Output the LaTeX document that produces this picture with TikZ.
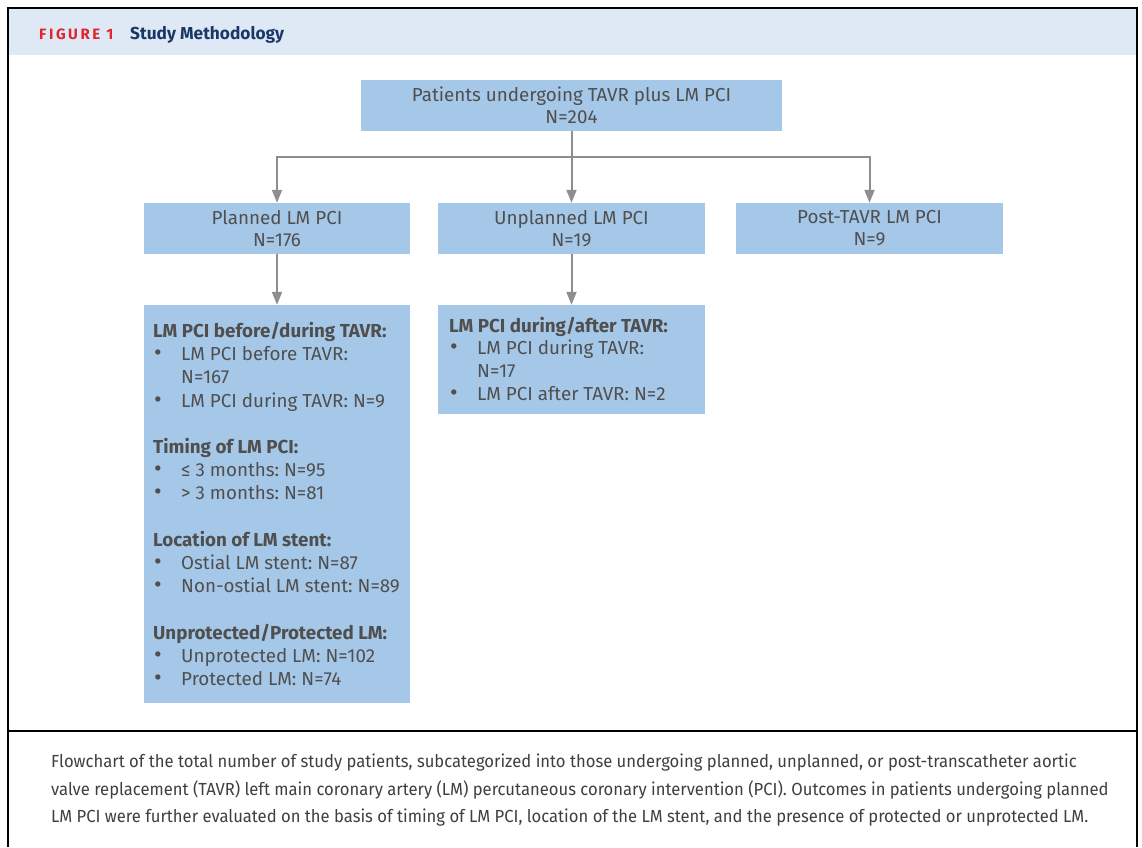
\documentclass[tikz,border=0pt]{standalone}
\usepackage{fontspec}
\setmainfont{Fira Sans}
\newfontfamily\capfont[FakeStretch=0.95]{Fira Sans}
\usetikzlibrary{arrows.meta}
\definecolor{boxblue}{HTML}{A6C8E8}
\definecolor{headband}{HTML}{DEE9F5}
\definecolor{linegray}{HTML}{8E8E8E}
\definecolor{txtgray}{HTML}{4F4F4F}
\definecolor{figred}{HTML}{E0252F}
\definecolor{navy}{HTML}{1B3766}
\tikzset{
  box/.style={fill=boxblue, draw=none, inner sep=0pt, text=txtgray, font=\fontsize{18.8}{22}\selectfont, align=center},
  listbox/.style={fill=boxblue, draw=none, inner sep=0pt},
  listtext/.style={anchor=base west, inner sep=0pt, text=txtgray, font=\frenchspacing\fontsize{18.8}{23.2}\selectfont, align=left},
  conn/.style={draw=linegray, line width=2pt},
  arr/.style={conn, -{Triangle[width=10pt,length=13pt]}},
  frame/.style={draw=black, line width=2pt},
}
\newcommand{\bitem}[1]{\makebox[28pt][l]{\hspace*{1pt}\scalebox{1.25}{\textbullet}}#1}
\newcommand{\bcont}[1]{\hspace*{28pt}#1}
\begin{document}
\begin{tikzpicture}[x=1pt,y=1pt]
\useasboundingbox (0,0) rectangle (1142,-847);
% header band
\fill[headband] (8,-9) rectangle (1137,-55);
\node[anchor=base west, inner sep=0pt, text=figred, font=\fontsize{15}{17}\selectfont\bfseries\addfontfeature{LetterSpace=17}] (figlabel) at (39,-39.5) {FIGURE 1};
\node[anchor=base west, inner sep=0pt, text=navy, font=\fontsize{17.3}{20}\selectfont\bfseries] (figtitle) at (130,-39.5) {Study Methodology};
% frame
\draw[frame] (8,-847) -- (8,-8) -- (1137,-8) -- (1137,-847);
\draw[frame] (8,-731) -- (1137,-731);
% boxes
\node[box, minimum width=421pt, minimum height=51pt] (top) at (571.5,-105.5) {Patients undergoing TAVR plus LM PCI\\N=204};
\node[box, minimum width=266pt, minimum height=51pt] (planned) at (277,-228.5) {Planned LM PCI\\N=176};
\node[box, minimum width=267pt, minimum height=51pt] (unplanned) at (571.5,-228.5) {Unplanned LM PCI\\N=19};
\node[box, minimum width=267pt, minimum height=51pt] (post) at (869.5,-228.5) {Post-TAVR LM PCI\\N=9};
\node[listbox, minimum width=266pt, minimum height=398pt] (plist) at (277,-504) {};
\node[listbox, minimum width=267pt, minimum height=109pt] (ulist) at (571.5,-359.5) {};
\node[listtext] (ptext) at (153,-685.5) {%
{\bfseries LM PCI before/during TAVR:}\\
\bitem{LM PCI before TAVR:}\\
\bcont{N=167}\\
\bitem{LM PCI during TAVR: N=9}\\[23.2pt]
{\bfseries Timing of LM PCI:}\\
\bitem{\symbol{"2264} 3 months: N=95}\\
\bitem{> 3 months: N=81}\\[23.2pt]
{\bfseries Location of LM stent:}\\
\bitem{Ostial LM stent: N=87}\\
\bitem{Non-ostial LM stent: N=89}\\[23.2pt]
{\bfseries Unprotected/Protected LM:}\\
\bitem{Unprotected LM: N=102}\\
\bitem{Protected LM: N=74}};
\node[listtext, font=\frenchspacing\fontsize{18.8}{22.8}\selectfont] (utext) at (449,-400.5) {%
{\bfseries LM PCI during/after TAVR:}\\
\bitem{LM PCI during TAVR:}\\
\bcont{N=17}\\
\bitem{LM PCI after TAVR: N=2}};
% connectors
\coordinate (junction) at (571.5,-157);
\draw[arr] (top.south) -- (unplanned.north);
\draw[arr] (junction) -| (planned.north);
\draw[arr] (junction) -| (post.north);
\draw[arr] (planned.south) -- (plist.north);
\draw[arr] (unplanned.south) -- (ulist.north);
% caption
\node[anchor=base west, inner sep=0pt, text=txtgray!80!black, font=\frenchspacing\capfont\fontsize{17.5}{27.5}\selectfont, align=left] (caption) at (51,-822.5) {Flowchart of the total number of study patients, subcategorized into those undergoing planned, unplanned, or post-transcatheter aortic\\
valve replacement (TAVR) left main coronary artery (LM) percutaneous coronary intervention (PCI). Outcomes in patients undergoing planned\\
LM PCI were further evaluated on the basis of timing of LM PCI, location of the LM stent, and the presence of protected or unprotected LM.};
\end{tikzpicture}
\end{document}
